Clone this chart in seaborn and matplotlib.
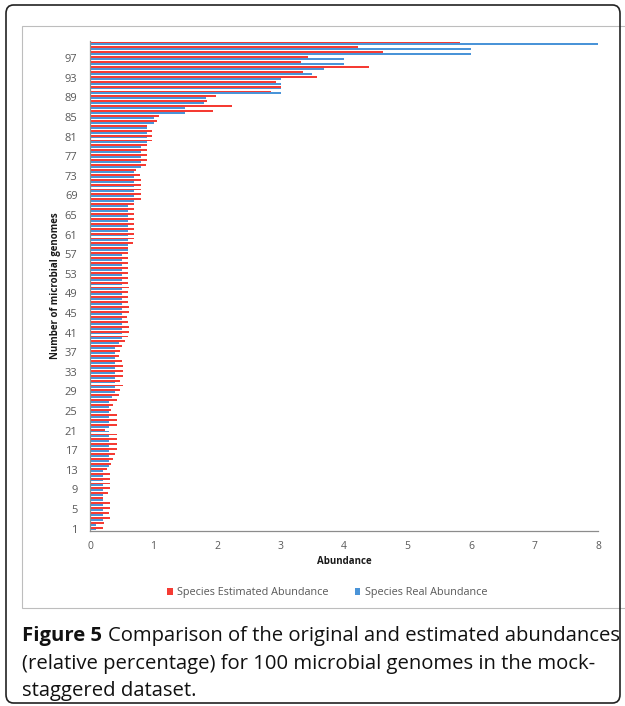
import numpy as np
import pandas as pd
import matplotlib
matplotlib.use("Agg")
import matplotlib.pyplot as plt
from matplotlib.patches import FancyBboxPatch, Rectangle
import seaborn as sns

# ---------------- data ----------------
genomes = list(range(1, 101))
estimated = [
    0.20, 0.22, 0.31, 0.30, 0.32, 0.31, 0.20, 0.29, 0.32, 0.31,   # 1-10
    0.32, 0.31, 0.26, 0.33, 0.36, 0.40, 0.42, 0.42, 0.42, 0.42,   # 11-20
    0.23, 0.42, 0.42, 0.42, 0.33, 0.36, 0.42, 0.45, 0.47, 0.52,   # 21-30
    0.47, 0.52, 0.52, 0.52, 0.50, 0.46, 0.47, 0.50, 0.55, 0.60,   # 31-40
    0.62, 0.62, 0.60, 0.58, 0.62, 0.62, 0.60, 0.60, 0.60, 0.62,   # 41-50
    0.60, 0.60, 0.60, 0.60, 0.60, 0.60, 0.60, 0.60, 0.68, 0.70,   # 51-60
    0.70, 0.70, 0.70, 0.70, 0.70, 0.70, 0.70, 0.80, 0.80, 0.80,   # 61-70
    0.80, 0.80, 0.78, 0.72, 0.88, 0.90, 0.90, 0.90, 0.90, 0.98,   # 71-80
    0.98, 0.97, 0.89, 1.06, 1.08, 1.94, 2.23, 1.85, 1.99, 2.85,   # 81-90
    3.00, 2.93, 3.58, 3.35, 4.39, 3.32, 3.43, 4.62, 4.22, 5.83,   # 91-100
]
real = [
    0.10, 0.10, 0.20, 0.20, 0.20, 0.20, 0.20, 0.20, 0.20, 0.20,   # 1-10
    0.20, 0.20, 0.20, 0.30, 0.30, 0.30, 0.30, 0.30, 0.30, 0.30,   # 11-20
    0.30, 0.30, 0.30, 0.30, 0.30, 0.30, 0.30, 0.35, 0.40, 0.40,   # 21-30
    0.40, 0.40, 0.40, 0.40, 0.40, 0.40, 0.40, 0.40, 0.45, 0.50,   # 31-40
    0.50, 0.50, 0.50, 0.50, 0.50, 0.50, 0.50, 0.50, 0.50, 0.50,   # 41-50
    0.50, 0.50, 0.50, 0.50, 0.50, 0.50, 0.50, 0.60, 0.60, 0.60,   # 51-60
    0.60, 0.60, 0.60, 0.60, 0.60, 0.60, 0.60, 0.70, 0.70, 0.70,   # 61-70
    0.70, 0.70, 0.70, 0.70, 0.80, 0.80, 0.80, 0.80, 0.80, 0.90,   # 71-80
    0.90, 0.90, 0.90, 1.00, 1.00, 1.50, 1.50, 1.79, 1.83, 3.00,   # 81-90
    3.00, 3.00, 3.00, 3.49, 3.69, 4.00, 4.00, 6.00, 6.00, 8.00,   # 91-100
]
series_names = ["Species Estimated Abundance", "Species Real Abundance"]
y_tick_values = list(range(1, 101, 4))
x_ticks = list(range(0, 9))

colors = {series_names[0]: "#f53b33", series_names[1]: "#4a94d8"}

df = pd.DataFrame({
    "genome": [str(g) for g in genomes] * 2,
    "value": estimated + real,
    "series": [series_names[0]] * len(genomes) + [series_names[1]] * len(genomes),
})
order = [str(g) for g in reversed(genomes)]

# ---------------- figure ----------------
sns.set_style("white")
plt.rcParams["font.family"] = ["Open Sans", "DejaVu Sans"]

W, H = 625, 706
fig = plt.figure(figsize=(W / 100, H / 100), dpi=100)

def fx(px):
    return px / W

def fy(py):
    return 1 - py / H

ax = fig.add_axes([fx(90), fy(531), fx(598) - fx(90), fy(41) - fy(531)])

sns.barplot(data=df, x="value", y="genome", hue="series", order=order,
            hue_order=series_names, palette=colors, orient="h",
            width=0.78, linewidth=0, saturation=1, ax=ax, legend=True)

ax.set_xlim(0, 8)
ax.set_ylim(len(order) - 0.5, -0.5)
ax.set_xticks(x_ticks)
ax.set_xticklabels([str(t) for t in x_ticks])

pos = [order.index(str(v)) for v in y_tick_values]
ax.set_yticks(pos)
ax.set_yticklabels([str(v) for v in y_tick_values])
ax.set_yticks(np.arange(-0.5, len(order), 1), minor=True)

grey = "#8c8c8c"
ax.tick_params(axis="y", which="major", length=0, pad=9, labelsize=8, labelcolor="#595959")
ax.tick_params(axis="y", which="minor", length=4, width=0.7, color=grey, direction="out")
ax.tick_params(axis="x", which="major", length=4, width=0.7, color=grey, direction="out",
               pad=3, labelsize=7.5, labelcolor="#595959")

for s in ["top", "right"]:
    ax.spines[s].set_visible(False)
for s in ["left", "bottom"]:
    ax.spines[s].set_color(grey)
    ax.spines[s].set_linewidth(0.9)

ax.set_xlabel("Abundance", fontsize=7, fontweight="bold", color="#1a1a1a", labelpad=3)
ax.set_ylabel("Number of microbial genomes", fontsize=7, fontweight="bold", color="#1a1a1a", labelpad=3)

handles, labels = ax.get_legend_handles_labels()
ax.get_legend().remove()
fig.legend(handles, labels, loc="center", bbox_to_anchor=(fx(327), fy(593)), ncol=2,
           frameon=False, fontsize=7.8, handlelength=0.55, handleheight=0.55,
           handletextpad=0.4, columnspacing=2.4, labelcolor="#595959")

# chart area border (light grey)
fig.patches.append(Rectangle((fx(22), fy(608)), fx(626) - fx(22), fy(26) - fy(608),
                             transform=fig.transFigure, fill=False,
                             edgecolor="#bdbdbd", linewidth=0.8))
# outer rounded frame
fig.patches.append(FancyBboxPatch((fx(6), fy(703)), fx(620) - fx(6), fy(5) - fy(703),
                                  boxstyle="round,pad=0,rounding_size=0.012",
                                  transform=fig.transFigure, fill=False,
                                  edgecolor="#222222", linewidth=1.2))

# caption
cap_fs = 14.6
t1 = fig.text(fx(22), fy(636), "Figure 5", fontsize=cap_fs, fontweight="bold",
              va="center", ha="left", color="#111111")
fig.canvas.draw()
bb = t1.get_window_extent(renderer=fig.canvas.get_renderer())
x_after = bb.x1 / W + 6 / W
fig.text(x_after, fy(636), "Comparison of the original and estimated abundances",
         fontsize=cap_fs, va="center", ha="left", color="#111111")
fig.text(fx(22), fy(664), "(relative percentage) for 100 microbial genomes in the mock-",
         fontsize=cap_fs, va="center", ha="left", color="#111111")
fig.text(fx(22), fy(691), "staggered dataset.",
         fontsize=cap_fs, va="center", ha="left", color="#111111")

fig.savefig("out.png", dpi=100)
